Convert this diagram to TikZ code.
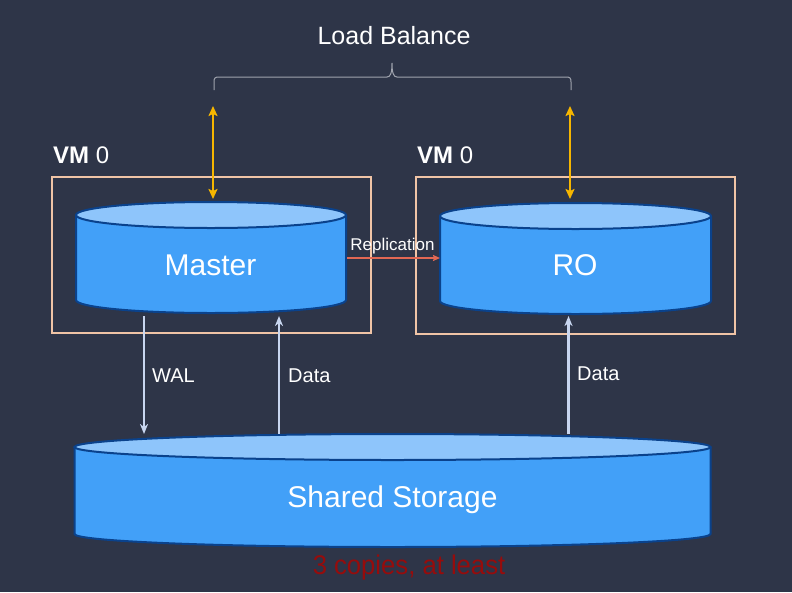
\documentclass[tikz,border=0pt]{standalone}
\usepackage{fontspec}
\setmainfont{Liberation Sans}
\usetikzlibrary{arrows.meta,calc}
\definecolor{bg}{RGB}{46,53,72}
\definecolor{cylbody}{RGB}{66,160,248}
\definecolor{cyltop}{RGB}{142,197,251}
\definecolor{cyledge}{RGB}{10,66,140}
\definecolor{vmedge}{RGB}{240,196,166}
\definecolor{lbarrow}{RGB}{246,182,0}
\definecolor{dataarrow}{RGB}{200,214,240}
\definecolor{reparrow}{RGB}{226,104,84}
\definecolor{copyred}{RGB}{150,12,12}
\definecolor{bracecol}{RGB}{160,164,174}
\newcommand\mycyl[5]{% cx, rx, ytop, ybot, ry
  \fill[cylbody] ({#1-#2},#3) -- ({#1-#2},#4)
     arc[start angle=180,end angle=360,x radius=#2pt,y radius=#5pt]
     -- ({#1+#2},#3) -- cycle;
  \draw[cyledge,line width=2pt] ({#1-#2},#3) -- ({#1-#2},#4)
     arc[start angle=180,end angle=360,x radius=#2pt,y radius=#5pt]
     -- ({#1+#2},#3);
  \draw[cyledge,line width=2pt,fill=cyltop] (#1,#3) ellipse[x radius=#2pt,y radius=#5pt];
}
\begin{document}
\begin{tikzpicture}[x=1pt,y=-1pt,
  txt/.style={text=white,inner sep=0pt},
  vmbox/.style={draw=vmedge,line width=2pt,inner sep=0pt},
  dataarr/.style={dataarrow,line width=2.2pt,-{Stealth[length=10pt,width=8pt,inset=3pt]}},
  lbarr/.style={lbarrow,line width=2.2pt,{Stealth[length=10pt,width=9pt,inset=2pt]}-{Stealth[length=10pt,width=9pt,inset=2pt]}},
  reparr/.style={reparrow,line width=1.6pt,-{Stealth[length=7pt,width=6pt,inset=1pt]}}]
\fill[bg] (0,0) rectangle (792,592);
\useasboundingbox (0,0) rectangle (792,592);

% VM boxes
\node[vmbox,minimum width=319pt,minimum height=156pt] (vmA) at (211.5,255) {};
\node[vmbox,minimum width=319pt,minimum height=157pt] (vmB) at (575.5,255.5) {};
\node[txt,anchor=base west,font=\fontsize{24}{28}\selectfont] (vmAlbl) at (53,163) {\textbf{VM} 0};
\node[txt,anchor=base west,font=\fontsize{24}{28}\selectfont] (vmBlbl) at (417,163) {\textbf{VM} 0};

% cylinders
\mycyl{211}{135}{215}{300}{13}
\mycyl{575.5}{135.5}{216}{301}{13}
\mycyl{392.5}{318}{447}{534}{13}

\node[txt,anchor=base,font=\fontsize{30}{36}\selectfont] (master) at (210.5,275) {Master};
\node[txt,anchor=base,font=\fontsize{30}{36}\selectfont] (ro) at (575,275) {RO};
\node[txt,anchor=base,font=\fontsize{30}{36}\selectfont] (shared) at (392.5,507) {Shared Storage};
\node[anchor=base,inner sep=0pt,text=copyred,font=\fontsize{27}{30}\selectfont,xscale=0.95] (copies) at (409,574) {3 copies, at least};

% load balance
\node[txt,anchor=base,font=\fontsize{25}{30}\selectfont] (lb) at (394,44) {Load Balance};
\coordinate (brL) at (214,90);
\coordinate (brR) at (571,90);
\coordinate (brM) at (392,63);
\draw[bracecol,line width=1pt] (brL) -- (214,82) .. controls (214,78) and (215,77) .. (219,77)
  -- (387,77) .. controls (390.5,77) and (392,73) .. (brM)
  .. controls (392,73) and (393.5,77) .. (397,77) -- (566,77)
  .. controls (570,77) and (571,78) .. (571,82) -- (brR);
\coordinate (lbA1) at (213,106);
\coordinate (lbA2) at (213,199);
\coordinate (lbB1) at (570,106);
\coordinate (lbB2) at (570,199);
\draw[lbarr] (lbA1) -- (lbA2);
\draw[lbarr] (lbB1) -- (lbB2);

% replication
\coordinate (repS) at (347,258);
\coordinate (repE) at (440,258);
\draw[reparr] (repS) -- (repE);
\node[txt,anchor=base,font=\fontsize{17}{20}\selectfont] (replbl) at (392.5,250) {Replication};

% WAL / Data
\coordinate (walS) at (144,316);
\coordinate (walE) at (144,434);
\draw[dataarr] (walS) -- (walE);
\node[txt,anchor=base west,font=\fontsize{20}{24}\selectfont] (wal) at (152,382) {WAL};
\coordinate (dAS) at (279,434);
\coordinate (dAE) at (279,316);
\draw[dataarr] (dAS) -- (dAE);
\node[txt,anchor=base west,font=\fontsize{20}{24}\selectfont] (dataA) at (288,382) {Data};
\coordinate (dBS) at (568.5,434);
\coordinate (dBE) at (568.5,316);
\draw[dataarr] (dBS) -- (dBE);
\node[txt,anchor=base west,font=\fontsize{20}{24}\selectfont] (dataB) at (577,380) {Data};
\end{tikzpicture}
\end{document}
